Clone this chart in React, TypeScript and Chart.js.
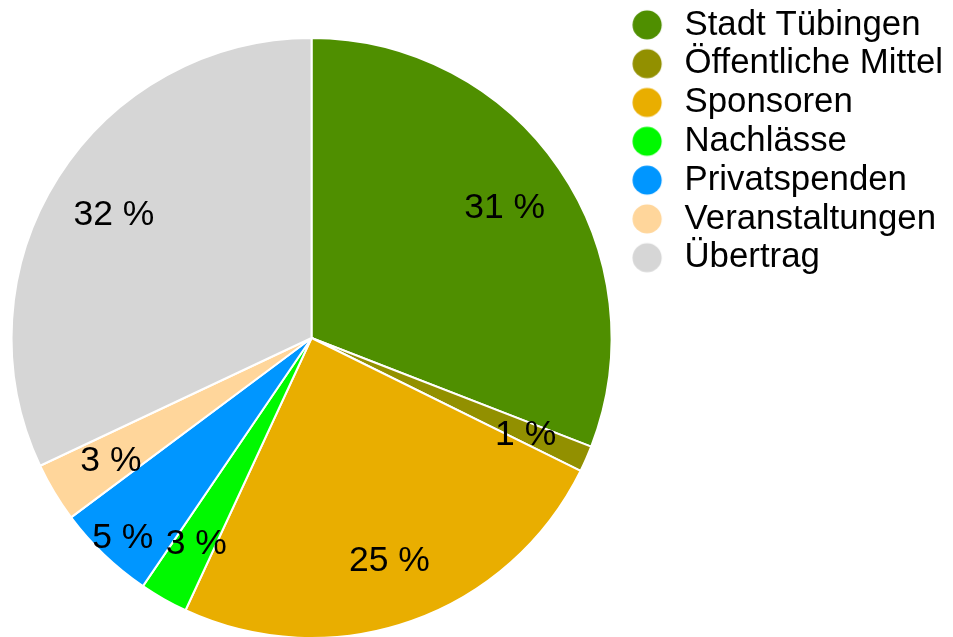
import React, { useEffect, useRef } from "react";
import { Chart, registerables } from "chart.js";

Chart.register(...registerables);

const categories = [
  "Stadt Tübingen",
  "Öffentliche Mittel",
  "Sponsoren",
  "Nachlässe",
  "Privatspenden",
  "Veranstaltungen",
  "Übertrag",
];
const shares = [30.9, 1.4, 24.6, 2.6, 5.3, 3.2, 32.0];
const colors = ["#4f8f00", "#929000", "#e9ae00", "#00f900", "#0096ff", "#ffd69b", "#d6d6d6"];

const FONT = '"Liberation Sans", Arial, Helvetica, sans-serif';

function circleImage(color: string, r: number) {
  const size = Math.ceil(r * 2) + 2;
  const c = document.createElement("canvas");
  c.width = size;
  c.height = size;
  const g = c.getContext("2d")!;
  g.fillStyle = color;
  g.beginPath();
  g.arc(size / 2, size / 2, r, 0, Math.PI * 2);
  g.fill();
  return c;
}

const sliceLabels = {
  id: "sliceLabels",
  afterDatasetsDraw(chart: any) {
    const meta = chart.getDatasetMeta(0);
    const data = chart.data.datasets[0].data as number[];
    const total = data.reduce((a, b) => a + b, 0);
    const ctx = chart.ctx;
    ctx.save();
    ctx.font = `35.5px ${FONT}`;
    ctx.fillStyle = "#000";
    ctx.textAlign = "center";
    ctx.textBaseline = "middle";
    meta.data.forEach((arc: any, i: number) => {
      const { x, y, startAngle, endAngle, outerRadius } = arc.getProps(
        ["x", "y", "startAngle", "endAngle", "outerRadius"],
        true
      );
      const mid = (startAngle + endAngle) / 2;
      const f = i === 4 ? 0.91 : 0.78;
      ctx.fillText(
        Math.round((data[i] / total) * 100) + " %",
        x + Math.cos(mid) * outerRadius * f,
        y + Math.sin(mid) * outerRadius * f + 2.5
      );
    });
    ctx.restore();
  },
};

export default function App() {
  const ref = useRef<HTMLCanvasElement | null>(null);
  useEffect(() => {
    if (!ref.current) return;
    const chart = new Chart(ref.current, {
      type: "pie",
      data: {
        labels: categories,
        datasets: [
          {
            data: shares,
            backgroundColor: colors,
            borderColor: "#ffffff",
            borderWidth: 2,
          },
        ],
      },
      options: {
        animation: false,
        responsive: true,
        maintainAspectRatio: false,
        radius: 300,
        layout: { padding: { top: 3.5, bottom: 3.5, left: -3, right: 0 } },
        plugins: {
          tooltip: { enabled: false },
          legend: {
            position: "right",
            align: "start",
            labels: {
              usePointStyle: true,
              pointStyleWidth: 40,
              padding: 4,
              color: "#000",
              font: { size: 34.8, family: FONT },
              generateLabels: (ch: any) =>
                ch.data.labels.map((label: string, i: number) => ({
                  text: label,
                  fillStyle: colors[i],
                  strokeStyle: colors[i],
                  fontColor: "#000",
                  lineWidth: 0,
                  pointStyle: circleImage(colors[i], 14.6),
                  hidden: false,
                  index: i,
                })),
            },
          },
        },
      } as any,
      plugins: [sliceLabels],
    });
    return () => chart.destroy();
  }, []);
  return (
    <div style={{ position: "fixed", top: 0, left: 0, width: 953, height: 637, overflow: "hidden", background: "#fff" }}>
      <div style={{ position: "relative", width: 953, height: 676 }}>
        <canvas ref={ref} />
      </div>
    </div>
  );
}
